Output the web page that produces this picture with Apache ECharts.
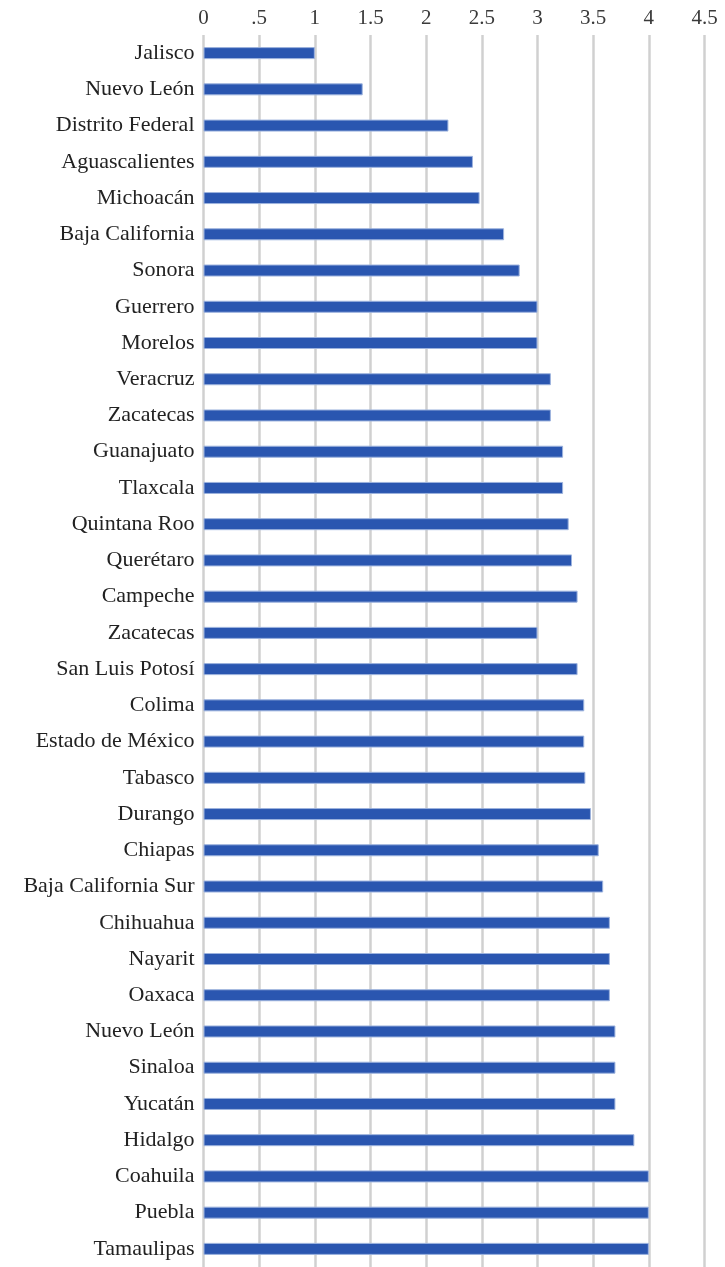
<!DOCTYPE html>
<html><head><meta charset="utf-8">
<script src="https://cdn.jsdelivr.net/npm/echarts@6/dist/echarts.min.js"></script>
<style>html,body{margin:0;padding:0;background:#fff}#c{width:725px;height:1267px}</style>
</head><body><div id="c"></div>
<script>
const categories = ["Jalisco","Nuevo León","Distrito Federal","Aguascalientes","Michoacán","Baja California","Sonora","Guerrero","Morelos","Veracruz","Zacatecas","Guanajuato","Tlaxcala","Quintana Roo","Querétaro","Campeche","Zacatecas","San Luis Potosí","Colima","Estado de México","Tabasco","Durango","Chiapas","Baja California Sur","Chihuahua","Nayarit","Oaxaca","Nuevo León","Sinaloa","Yucatán","Hidalgo","Coahuila","Puebla","Tamaulipas"];
const values = [1.0,1.43,2.2,2.42,2.48,2.7,2.84,3.0,3.0,3.12,3.12,3.23,3.23,3.28,3.31,3.36,3.0,3.36,3.42,3.42,3.43,3.48,3.55,3.59,3.65,3.65,3.65,3.7,3.7,3.7,3.87,4.0,4.0,4.0];
const tickMin = 0, tickMax = 4.5, tickStep = 0.5;

const chart = echarts.init(document.getElementById('c'), null, {renderer:'canvas'});
const font = '"Liberation Serif", "DejaVu Serif", serif';
chart.setOption({
  animation:false,
  grid:{left:203.5, right:20.5, top:35, height:1235, containLabel:false},
  xAxis:{type:'value', position:'top', min:tickMin, max:tickMax, interval:tickStep,
    axisLine:{show:false}, axisTick:{show:false},
    splitLine:{show:true, lineStyle:{color:'#d0d0d0', width:2.5}},
    axisLabel:{margin:6, fontFamily:font, fontSize:21, color:'#3a3a3a',
      formatter:v=> v===0?'0':String(v).replace(/^0\./,'.')}},
  yAxis:{type:'category', inverse:true, data:categories,
    axisLine:{show:false}, axisTick:{show:false}, splitLine:{show:false},
    axisLabel:{margin:9, fontFamily:font, fontSize:22, color:'#222'}},
  series:[{type:'bar', data:values, barWidth:12,
    itemStyle:{color:'#2a56b0', borderColor:'#9db3de', borderWidth:1}}]
});
</script></body></html>
